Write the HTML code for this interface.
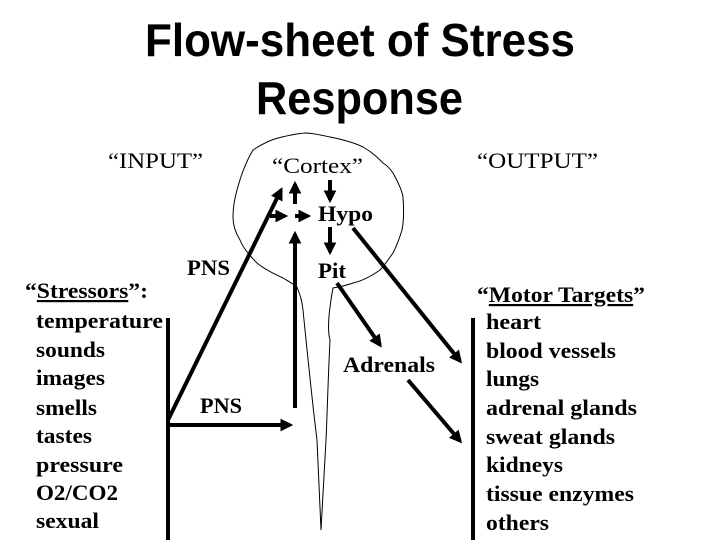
<!DOCTYPE html>
<html><head><meta charset="utf-8"><style>
html,body{margin:0;padding:0;background:#fff;}
svg{display:block;}
.t{font-family:"Liberation Serif",serif;font-size:22px;fill:#000;}
.b{font-weight:bold;}
.h{font-family:"Liberation Sans",sans-serif;font-weight:bold;font-size:46px;fill:#000;}
</style></head><body>
<svg width="720" height="540" viewBox="0 0 720 540" xmlns="http://www.w3.org/2000/svg">
<defs>
<marker id="a" markerWidth="3.2" markerHeight="3.2" refX="2.4" refY="1.6" orient="auto" markerUnits="strokeWidth">
<path d="M0,0 L3.2,1.6 L0,3.2 z" fill="#000"/>
</marker>
</defs>
<text class="h" x="145" y="56" textLength="430" lengthAdjust="spacingAndGlyphs">Flow-sheet of Stress</text>
<text class="h" x="256" y="114" textLength="207" lengthAdjust="spacingAndGlyphs">Response</text>

<path d="M253,150 C262,144 270,140 278,138 C290,135 300,133 307,133 C318,134 325,136 330,137 C345,140 355,143 363,147 C372,152 378,158 383,163 C388,166 391,170 393,173 C398,182 402,190 403,197 C404,210 404,220 402,230 C399,240 396,247 393,253 C388,260 384,266 380,270 C370,277 362,281 353,283 C345,286 338,287 333,288 C329,310 327,330 330,340 C328,380 327,420 326,440 L321,530 L317,440 C312,400 306,340 303,310 C302,300 300,295 297,287 C292,283 288,281 283,278 C272,273 263,268 257,263 C249,255 243,248 240,240 C235,232 233,225 233,217 C233,205 235,197 237,190 C241,175 247,160 253,150 Z" fill="none" stroke="#000" stroke-width="1"/>

<g class="t">
<text x="108" y="168" textLength="95" lengthAdjust="spacingAndGlyphs">“INPUT”</text>
<text x="477" y="168" textLength="121" lengthAdjust="spacingAndGlyphs">“OUTPUT”</text>
<text x="272" y="173" textLength="91" lengthAdjust="spacingAndGlyphs">“Cortex”</text>
<text class="b" x="318" y="221" textLength="55" lengthAdjust="spacingAndGlyphs">Hypo</text>
<text class="b" x="318" y="278" textLength="28" lengthAdjust="spacingAndGlyphs">Pit</text>
<text class="b" x="343" y="372" textLength="92" lengthAdjust="spacingAndGlyphs">Adrenals</text>
<text class="b" x="187" y="275" textLength="43" lengthAdjust="spacingAndGlyphs">PNS</text>
<text class="b" x="200" y="413" textLength="42" lengthAdjust="spacingAndGlyphs">PNS</text>

<text class="b" x="25" y="298" textLength="123" lengthAdjust="spacingAndGlyphs">“<tspan text-decoration="underline">Stressors</tspan>”:</text>
<text class="b" x="36" y="328" textLength="127" lengthAdjust="spacingAndGlyphs">temperature</text>
<text class="b" x="36" y="357" textLength="69" lengthAdjust="spacingAndGlyphs">sounds</text>
<text class="b" x="36" y="385" textLength="69" lengthAdjust="spacingAndGlyphs">images</text>
<text class="b" x="36" y="415" textLength="61" lengthAdjust="spacingAndGlyphs">smells</text>
<text class="b" x="36" y="443" textLength="56" lengthAdjust="spacingAndGlyphs">tastes</text>
<text class="b" x="36" y="472" textLength="87" lengthAdjust="spacingAndGlyphs">pressure</text>
<text class="b" x="36" y="500" textLength="82" lengthAdjust="spacingAndGlyphs">O2/CO2</text>
<text class="b" x="36" y="528" textLength="63" lengthAdjust="spacingAndGlyphs">sexual</text>

<text class="b" x="477" y="302" textLength="168" lengthAdjust="spacingAndGlyphs">“<tspan text-decoration="underline">Motor Targets</tspan>”</text>
<text class="b" x="486" y="329" textLength="55" lengthAdjust="spacingAndGlyphs">heart</text>
<text class="b" x="486" y="358" textLength="130" lengthAdjust="spacingAndGlyphs">blood vessels</text>
<text class="b" x="486" y="386" textLength="53" lengthAdjust="spacingAndGlyphs">lungs</text>
<text class="b" x="486" y="415" textLength="151" lengthAdjust="spacingAndGlyphs">adrenal glands</text>
<text class="b" x="486" y="444" textLength="129" lengthAdjust="spacingAndGlyphs">sweat glands</text>
<text class="b" x="486" y="472" textLength="77" lengthAdjust="spacingAndGlyphs">kidneys</text>
<text class="b" x="486" y="501" textLength="148" lengthAdjust="spacingAndGlyphs">tissue enzymes</text>
<text class="b" x="486" y="530" textLength="63" lengthAdjust="spacingAndGlyphs">others</text>
</g>

<g stroke="#000" stroke-width="4" fill="none">
<line x1="168" y1="318" x2="168" y2="540"/>
<line x1="473" y1="318" x2="473" y2="540"/>
<line x1="168" y1="420" x2="281" y2="190" marker-end="url(#a)"/>
<line x1="168" y1="425" x2="290" y2="425" marker-end="url(#a)"/>
<line x1="295" y1="408" x2="295" y2="234" marker-end="url(#a)"/>
<line x1="295" y1="204" x2="295" y2="184" marker-end="url(#a)"/>
<line x1="270" y1="216" x2="285" y2="216" marker-end="url(#a)"/>
<line x1="295" y1="216" x2="308" y2="216" marker-end="url(#a)"/>
<line x1="330" y1="180" x2="330" y2="200" marker-end="url(#a)"/>
<line x1="330" y1="227" x2="330" y2="252" marker-end="url(#a)"/>
<line x1="353" y1="228" x2="460" y2="361" marker-end="url(#a)"/>
<line x1="337" y1="283" x2="380" y2="345" marker-end="url(#a)"/>
<line x1="408" y1="380" x2="460" y2="441" marker-end="url(#a)"/>
</g>
</svg>
</body></html>
